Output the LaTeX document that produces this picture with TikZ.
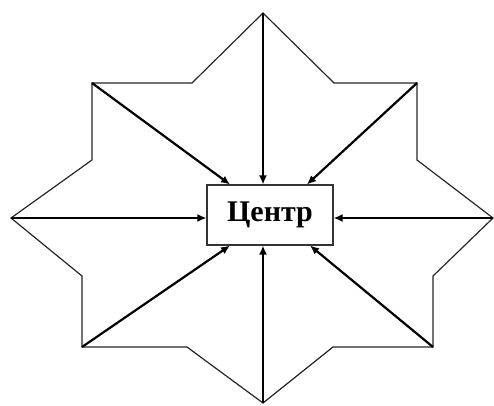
\documentclass[tikz,border=0pt]{standalone}
\usepackage{fontspec}
\setmainfont{Liberation Serif}
\usetikzlibrary{arrows.meta}
\tikzset{
  outline/.style={draw=black!85, line width=1.2pt, line join=miter},
  ray/.style={draw=black, line width=2.2pt, -{Latex[length=9pt,width=8pt]}},
  centerbox/.style={draw=black!80, line width=1.1pt, fill=white, minimum width=126pt, minimum height=60pt, inner sep=0pt, font=\bfseries\fontsize{30}{33}\selectfont}
}
\begin{document}
\begin{tikzpicture}[x=1pt,y=-1pt]
\useasboundingbox (0,0) rectangle (494,405);
% star points
\coordinate (pt) at (263,13);
\coordinate (ptr) at (417,83);
\coordinate (pr) at (493,218);
\coordinate (pbr) at (433,347);
\coordinate (pb) at (263,403);
\coordinate (pbl) at (82,347);
\coordinate (pl) at (11,218);
\coordinate (ptl) at (92,83);
% inner corners
\coordinate (i1) at (334,83);
\coordinate (i2) at (417,160);
\coordinate (i3) at (433,276);
\coordinate (i4) at (333,347);
\coordinate (i5) at (187,347);
\coordinate (i6) at (82,276);
\coordinate (i7) at (92,160);
\coordinate (i8) at (192,83);
\draw[outline] (pt) -- (i1) -- (ptr) -- (i2) -- (pr) -- (i3) -- (pbr) -- (i4) -- (pb) -- (i5) -- (pbl) -- (i6) -- (pl) -- (i7) -- (ptl) -- (i8) -- cycle;
\node[centerbox] (box) at (270,215) {Центр};
\draw[ray] (pt) -- ([xshift=-7pt]box.north);
\draw[ray] (ptl) -- ([xshift=-40pt]box.north);
\draw[ray] (ptr) -- ([xshift=37pt]box.north);
\draw[ray] (pl) -- ([yshift=-3pt]box.west);
\draw[ray] (pr) -- ([yshift=-3pt]box.east);
\draw[ray] (pb) -- ([xshift=-7pt]box.south);
\draw[ray] (pbl) -- ([xshift=-40pt]box.south);
\draw[ray] (pbr) -- ([xshift=40pt]box.south);
\end{tikzpicture}
\end{document}
